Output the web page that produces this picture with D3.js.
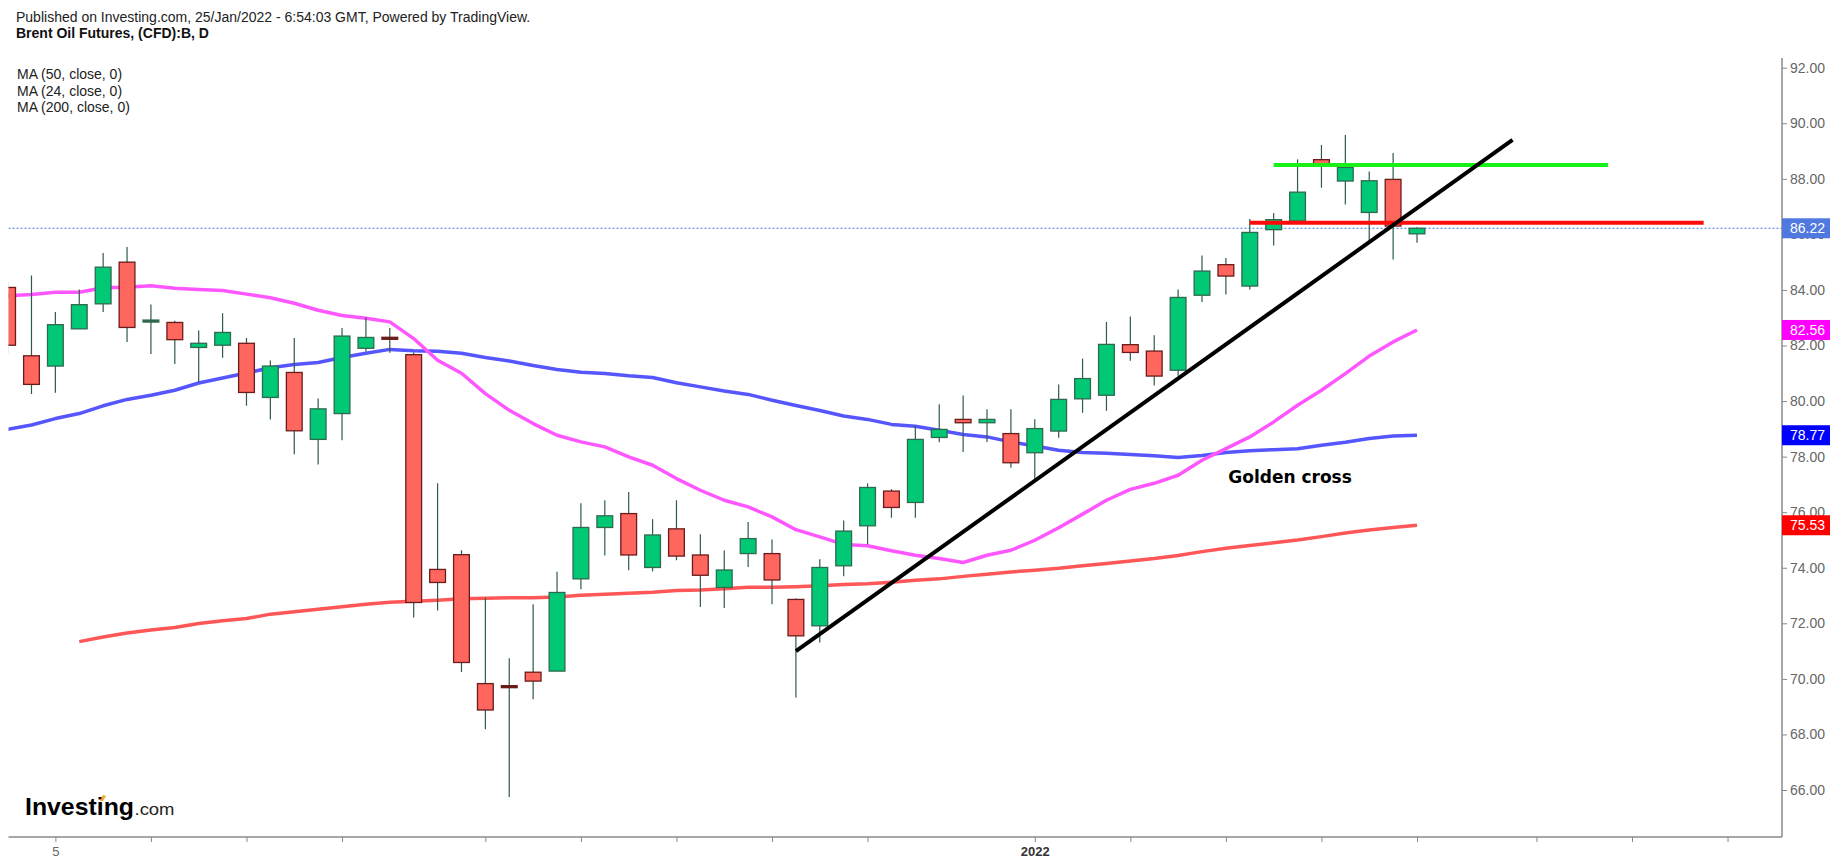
<!DOCTYPE html>
<html>
<head>
<meta charset="utf-8">
<script src="https://cdn.jsdelivr.net/npm/d3@7/dist/d3.min.js"></script>
<style>
  body { margin: 0; background: #fff; }
  svg { display: block; font-family: "Liberation Sans", Arial, sans-serif; }
</style>
</head>
<body>
<div id="chart"></div>
<script>
// Trading days shown on the chart
const days = [
  "2021-11-03","2021-11-04","2021-11-05","2021-11-08","2021-11-09","2021-11-10","2021-11-11","2021-11-12",
  "2021-11-15","2021-11-16","2021-11-17","2021-11-18","2021-11-19","2021-11-22","2021-11-23","2021-11-24",
  "2021-11-25","2021-11-26","2021-11-29","2021-11-30","2021-12-01","2021-12-02","2021-12-03","2021-12-06",
  "2021-12-07","2021-12-08","2021-12-09","2021-12-10","2021-12-13","2021-12-14","2021-12-15","2021-12-16",
  "2021-12-17","2021-12-20","2021-12-21","2021-12-22","2021-12-23","2021-12-24","2021-12-27","2021-12-28",
  "2021-12-29","2021-12-30","2021-12-31","2022-01-03","2022-01-04","2022-01-05","2022-01-06","2022-01-07",
  "2022-01-10","2022-01-11","2022-01-12","2022-01-13","2022-01-14","2022-01-17","2022-01-18","2022-01-19",
  "2022-01-20","2022-01-21","2022-01-24","2022-01-25"
];

// Daily OHLC
const open = [84.09,81.63,81.26,82.60,83.50,85.00,82.87,82.83,81.93,82.01,82.08,80.13,81.03,78.62,79.55,81.90,
  82.28,81.67,73.94,74.47,69.83,69.74,70.24,70.28,73.60,75.45,75.95,74.01,75.40,74.46,73.29,74.51,
  74.51,72.86,71.91,74.07,75.51,76.76,76.35,78.69,79.34,79.22,78.83,78.14,78.92,80.08,80.21,82.03,
  81.80,81.11,83.81,84.91,84.14,86.17,86.48,88.69,87.92,86.79,87.98,86.02];
const high = [84.30,84.52,83.21,84.02,85.33,85.55,83.48,82.89,82.54,83.16,82.27,81.46,82.27,80.09,82.63,83.02,
  82.63,81.75,77.04,74.63,72.92,70.74,72.69,73.86,76.32,76.43,76.73,75.75,76.43,75.21,74.62,75.65,
  75.02,72.89,74.31,75.70,77.04,76.83,79.12,79.89,80.20,79.71,79.71,79.35,80.60,81.53,82.85,83.04,
  82.37,84.02,85.24,85.15,86.55,86.77,88.70,89.22,89.58,88.26,88.93,86.26];
const low = [81.70,80.25,80.30,82.60,83.21,82.13,81.69,81.33,80.69,81.56,79.83,79.34,78.09,77.72,78.59,81.78,
  81.74,72.21,72.46,70.25,68.19,65.75,69.27,70.28,73.23,74.44,73.91,73.87,74.27,72.59,72.55,74.03,
  72.69,69.33,71.31,73.69,74.84,75.80,75.80,78.52,78.17,78.53,77.60,77.10,78.68,79.58,79.65,81.45,
  80.56,80.91,83.57,83.84,84.02,85.60,86.48,87.68,87.08,85.79,85.10,85.70];
const close = [82.01,80.60,82.75,83.47,84.82,82.65,82.89,82.21,82.08,82.47,80.31,81.26,78.93,79.72,82.34,82.29,
  82.24,72.75,73.47,70.59,68.88,69.70,69.92,73.11,75.45,75.87,74.46,75.18,74.42,73.73,73.92,75.05,
  73.56,71.55,74.01,75.32,76.89,76.17,78.62,78.98,79.22,79.34,77.78,79.01,80.06,80.81,82.04,81.75,
  80.90,83.73,84.68,84.50,86.07,86.53,87.52,88.46,88.41,87.93,86.30,86.22];

// Moving averages
const ma24 = [83.79,83.84,83.92,83.92,84.08,84.10,84.15,84.06,84.02,83.98,83.85,83.72,83.52,83.27,83.08,82.98,
  82.85,82.25,81.47,81.00,80.27,79.67,79.19,78.77,78.53,78.35,77.99,77.69,77.21,76.79,76.43,76.19,
  75.83,75.37,75.11,74.84,74.79,74.61,74.45,74.33,74.19,74.45,74.63,74.99,75.44,75.93,76.43,76.82,
  77.04,77.33,77.87,78.29,78.71,79.25,79.85,80.39,80.99,81.62,82.13,82.56];
const ma50 = [78.98,79.14,79.37,79.55,79.83,80.06,80.21,80.39,80.65,80.83,81.01,81.20,81.32,81.39,81.57,81.72,
  81.86,81.81,81.79,81.72,81.57,81.44,81.28,81.14,81.04,80.99,80.91,80.85,80.66,80.51,80.36,80.24,
  80.03,79.84,79.66,79.46,79.34,79.16,79.09,78.95,78.80,78.71,78.53,78.38,78.23,78.15,78.12,78.08,
  78.03,77.97,78.04,78.15,78.21,78.25,78.28,78.41,78.52,78.65,78.74,78.77];
const ma200 = [null,null,null,71.34,71.51,71.65,71.76,71.85,71.99,72.09,72.17,72.33,72.42,72.51,72.60,72.69,
  72.76,72.79,72.83,72.88,72.90,72.92,72.92,72.95,73.01,73.05,73.08,73.12,73.18,73.20,73.24,73.30,
  73.30,73.32,73.35,73.40,73.42,73.48,73.55,73.60,73.69,73.77,73.85,73.91,73.98,74.07,74.15,74.24,
  74.33,74.44,74.58,74.70,74.80,74.90,75.00,75.12,75.25,75.36,75.45,75.53];

// Axis ticks
const yTicks = [66,68,70,72,74,76,78,80,82,84,86,88,90,92];
const xTickIndex = [2,6,10,14,20,24,28,32,36,43,47,51,55,59,64,68,72];
const xTickLabel = ["5","","","","","","","","","2022","","","","","","",""];

// Drawn annotations (bar index, price)
const trendLine = [[33, 71.0], [63, 89.4]];
const resistanceLine = [[53, 88.50], [67, 88.50]];
const supportLine = [[52, 86.42], [71, 86.42]];
const lastPrice = 86.22;
const lastLabels = [
  { value: 86.22, color: "#5079e0" },
  { value: 82.56, color: "#ff00ff" },
  { value: 78.77, color: "#0000ff" },
  { value: 75.53, color: "#ff0000" }
];

function BuildChart() {
  let width = 1837, height = 866;
  let plotLeft = 8.5, plotRight = 1782, plotBottom = 837;

  let svg = d3.select("#chart").append("svg")
    .attr("width", width).attr("height", height);

  let x = d3.scaleLinear().domain([0, 59]).range([7.6, 1417]);
  let y = d3.scaleLinear().domain([66, 92]).range([790, 67.7]);
  let step = x(1) - x(0);
  let bodyW = step * 0.66;

  svg.append("clipPath").attr("id", "plotclip")
    .append("rect").attr("x", plotLeft).attr("y", 0)
    .attr("width", plotRight - plotLeft).attr("height", plotBottom);

  let plot = svg.append("g").attr("clip-path", "url(#plotclip)");

  // last price dotted line
  plot.append("line")
    .attr("x1", plotLeft).attr("x2", plotRight)
    .attr("y1", y(lastPrice)).attr("y2", y(lastPrice))
    .attr("stroke", "#4a6fe0").attr("stroke-width", 1)
    .attr("stroke-dasharray", "2,2");

  // moving averages
  let line = d3.line()
    .defined(d => d != null)
    .x((d, i) => x(i))
    .y(d => y(d));
  [[ma200, "#ff5757"], [ma50, "#5656ff"], [ma24, "#ff57ff"]].forEach(([s, c]) => {
    plot.append("path").datum(s)
      .attr("d", line)
      .attr("fill", "none")
      .attr("stroke", c)
      .attr("stroke-width", 3.5)
      .attr("stroke-linejoin", "round");
  });

  // candles
  let candles = plot.selectAll("g.candle")
    .data(days.map((d, i) => ({ i: i, o: open[i], h: high[i], l: low[i], c: close[i] })))
    .enter().append("g").attr("class", "candle");

  candles.append("line")
    .attr("x1", d => x(d.i)).attr("x2", d => x(d.i))
    .attr("y1", d => y(d.h)).attr("y2", d => y(d.l))
    .attr("stroke", "#2d5c47").attr("stroke-width", 1.2);

  candles.append("rect")
    .attr("x", d => x(d.i) - bodyW / 2)
    .attr("width", bodyW)
    .attr("y", d => {
      let h = Math.abs(y(d.o) - y(d.c));
      return h < 2 ? (y(d.o) + y(d.c)) / 2 - 1 : y(Math.max(d.o, d.c));
    })
    .attr("height", d => Math.max(2, Math.abs(y(d.o) - y(d.c))))
    .attr("fill", d => {
      let h = Math.abs(y(d.o) - y(d.c));
      if (h < 2) return d.c >= d.o ? "#245e45" : "#6b1b1b";
      return d.c >= d.o ? "#00c875" : "#ff665e";
    })
    .attr("stroke", d => d.c >= d.o ? "#2f6a50" : "#6b1b1b")
    .attr("stroke-width", 1.3);

  // annotations
  let seg = d3.line().x(d => x(d[0])).y(d => y(d[1]));
  plot.append("path").datum(resistanceLine).attr("d", seg)
    .attr("stroke", "#19f019").attr("stroke-width", 4).attr("fill", "none");
  plot.append("path").datum(supportLine).attr("d", seg)
    .attr("stroke", "#ff0a0a").attr("stroke-width", 4).attr("fill", "none");
  plot.append("path").datum(trendLine).attr("d", seg)
    .attr("stroke", "#000").attr("stroke-width", 4).attr("fill", "none");

  plot.append("text")
    .attr("x", x(51.1)).attr("y", y(77.05))
    .style("font-family", "'DejaVu Sans', Verdana, sans-serif")
    .style("font-size", "17px").style("font-weight", "bold")
    .attr("fill", "#000")
    .text("Golden cross");

  // right axis
  let yAxis = d3.axisRight(y)
    .tickValues(yTicks)
    .tickSize(5)
    .tickPadding(3)
    .tickFormat(d3.format(".2f"));
  let ya = svg.append("g")
    .attr("transform", "translate(" + plotRight + ",0)")
    .call(yAxis);
  ya.select(".domain").remove();
  ya.selectAll(".tick line").attr("stroke", "#888");
  ya.selectAll(".tick text").attr("fill", "#666").style("font-size", "14px")
    .style("font-family", "'Liberation Sans', Arial, sans-serif");

  svg.append("line")
    .attr("x1", plotRight).attr("x2", plotRight)
    .attr("y1", 58).attr("y2", plotBottom)
    .attr("stroke", "#8a8a8a").attr("stroke-width", 1.5);

  // bottom axis
  let xAxis = d3.axisBottom(x)
    .tickValues(xTickIndex)
    .tickSize(5)
    .tickPadding(5)
    .tickFormat((d, i) => xTickLabel[i]);
  let xa = svg.append("g")
    .attr("transform", "translate(0," + plotBottom + ")")
    .call(xAxis);
  xa.select(".domain").remove();
  xa.selectAll(".tick line").attr("stroke", "#888");
  xa.selectAll(".tick text")
    .attr("fill", (d, i) => i == 9 ? "#333" : "#666")
    .style("font-weight", (d, i) => i == 9 ? "bold" : "normal")
    .style("font-size", "13px")
    .style("font-family", "'Liberation Sans', Arial, sans-serif");

  svg.append("line")
    .attr("x1", plotLeft).attr("x2", plotRight)
    .attr("y1", plotBottom).attr("y2", plotBottom)
    .attr("stroke", "#8a8a8a").attr("stroke-width", 1.5);

  // last value labels
  let lbl = svg.selectAll("g.last").data(lastLabels).enter()
    .append("g").attr("class", "last")
    .attr("transform", d => "translate(" + plotRight + "," + y(d.value) + ")");
  lbl.append("rect")
    .attr("x", 0).attr("y", -10).attr("width", 48).attr("height", 20)
    .attr("fill", d => d.color);
  lbl.append("text")
    .attr("x", 8).attr("y", 5)
    .attr("fill", "#fff").style("font-size", "14px")
    .text(d => d.value.toFixed(2));

  // header texts
  svg.append("text").attr("x", 16).attr("y", 22)
    .style("font-size", "14px").attr("fill", "#222")
    .text("Published on Investing.com, 25/Jan/2022 - 6:54:03 GMT, Powered by TradingView.");
  svg.append("text").attr("x", 16).attr("y", 38)
    .style("font-size", "14px").style("font-weight", "bold").attr("fill", "#111")
    .text("Brent Oil Futures, (CFD):B, D");
  ["MA (50, close, 0)", "MA (24, close, 0)", "MA (200, close, 0)"].forEach((t, i) => {
    svg.append("text").attr("x", 17).attr("y", 79 + i * 16.5)
      .style("font-size", "14px").attr("fill", "#222").text(t);
  });

  // Investing.com logo
  let logo = svg.append("g");
  logo.append("text").attr("x", 25).attr("y", 815)
    .style("font-size", "24px").style("font-weight", "bold")
    .style("font-family", "'Liberation Sans Narrow', 'Arial Narrow', 'Liberation Sans', sans-serif")
    .attr("textLength", 109).attr("lengthAdjust", "spacingAndGlyphs")
    .attr("fill", "#000").text("Investing");
  logo.append("text").attr("x", 134.5).attr("y", 815)
    .style("font-size", "16px")
    .style("font-family", "'Liberation Sans Narrow', 'Arial Narrow', 'Liberation Sans', sans-serif")
    .attr("textLength", 40).attr("lengthAdjust", "spacingAndGlyphs")
    .attr("fill", "#222").text(".com");
  logo.append("path")
    .attr("d", "M100,801 L103,795 L106,796 L103,801 Z")
    .attr("fill", "#f5a623");
}

document.addEventListener("DOMContentLoaded", BuildChart);
</script>
</body>
</html>
